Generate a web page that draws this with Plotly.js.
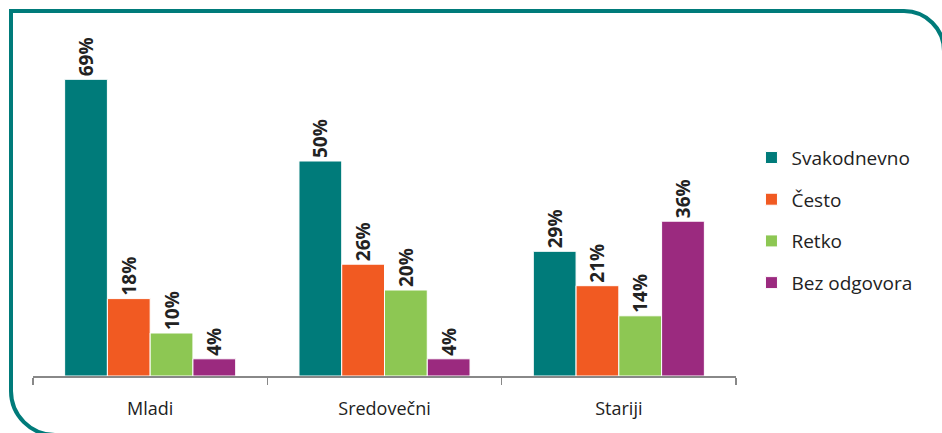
<!DOCTYPE html>
<html>
<head>
<meta charset="utf-8">
<script src="https://cdn.plot.ly/plotly-3.0.1.min.js"></script>
<style>
html,body{margin:0;padding:0;background:#fff;overflow:hidden;}
#wrap{position:relative;width:942px;height:433px;overflow:hidden;}
#frame{position:absolute;left:9px;top:9px;width:937px;height:428px;border:4px solid #007B7A;border-top-right-radius:42px;border-bottom-left-radius:46px;box-sizing:border-box;pointer-events:none;z-index:2;}
#chart{position:absolute;left:0;top:0;width:942px;height:433px;}
</style>
</head>
<body>
<div id="wrap">
<div id="chart"></div>
<div id="frame"></div>
</div>
<script>
const categories = ['Mladi', 'Sredovečni', 'Stariji'];
const seriesNames = ['Svakodnevno', 'Često', 'Retko', 'Bez odgovora'];
const svakodnevno = [69, 50, 29];
const cesto = [18, 26, 21];
const retko = [10, 20, 14];
const bezOdgovora = [4, 4, 36];
const colors = ['#007B7A', '#F15A22', '#8DC753', '#9B2A7F'];

const allValues = [svakodnevno, cesto, retko, bezOdgovora];
const font = '"Open Sans", Lato, sans-serif';

const traces = allValues.map((vals, i) => ({
  type: 'bar',
  name: seriesNames[i],
  x: categories,
  y: vals,
  text: vals.map(v => v + '%'),
  textposition: 'outside',
  textangle: -90,
  cliponaxis: false,
  textfont: {family: font, size: 19, color: '#222', weight: 'bold'},
  marker: {color: colors[i], line: {color: '#fff', width: 1}},
  legendgroup: 'g' + i,
  hoverinfo: 'none'
}));

const layout = {
  width: 942, height: 433,
  margin: {l: 33, r: 206, t: 32, b: 57},
  paper_bgcolor: '#fff', plot_bgcolor: '#fff',
  barmode: 'group',
  bargap: 0.27,
  bargroupgap: 0,
  font: {family: font, color: '#222'},
  xaxis: {
    showline: true, linecolor: '#888', linewidth: 1.5,
    ticks: 'outside', tickson: 'boundaries', ticklen: 7, tickcolor: '#888', tickwidth: 1.5,
    tickfont: {family: font, size: 18, color: '#222'},
    ticklabelstandoff: 16,
    fixedrange: true
  },
  yaxis: {
    range: [0, 80], visible: false, showgrid: false, zeroline: false, fixedrange: true
  },
  showlegend: true,
  legend: {
    x: 1.022, xanchor: 'left', y: 0.453, yanchor: 'middle',
    font: {family: font, size: 19, color: '#222'},
    traceorder: 'grouped', tracegroupgap: 14,
    itemwidth: 30
  }
};

Plotly.newPlot('chart', traces, layout, {displayModeBar: false, staticPlot: true});
</script>
</body>
</html>
